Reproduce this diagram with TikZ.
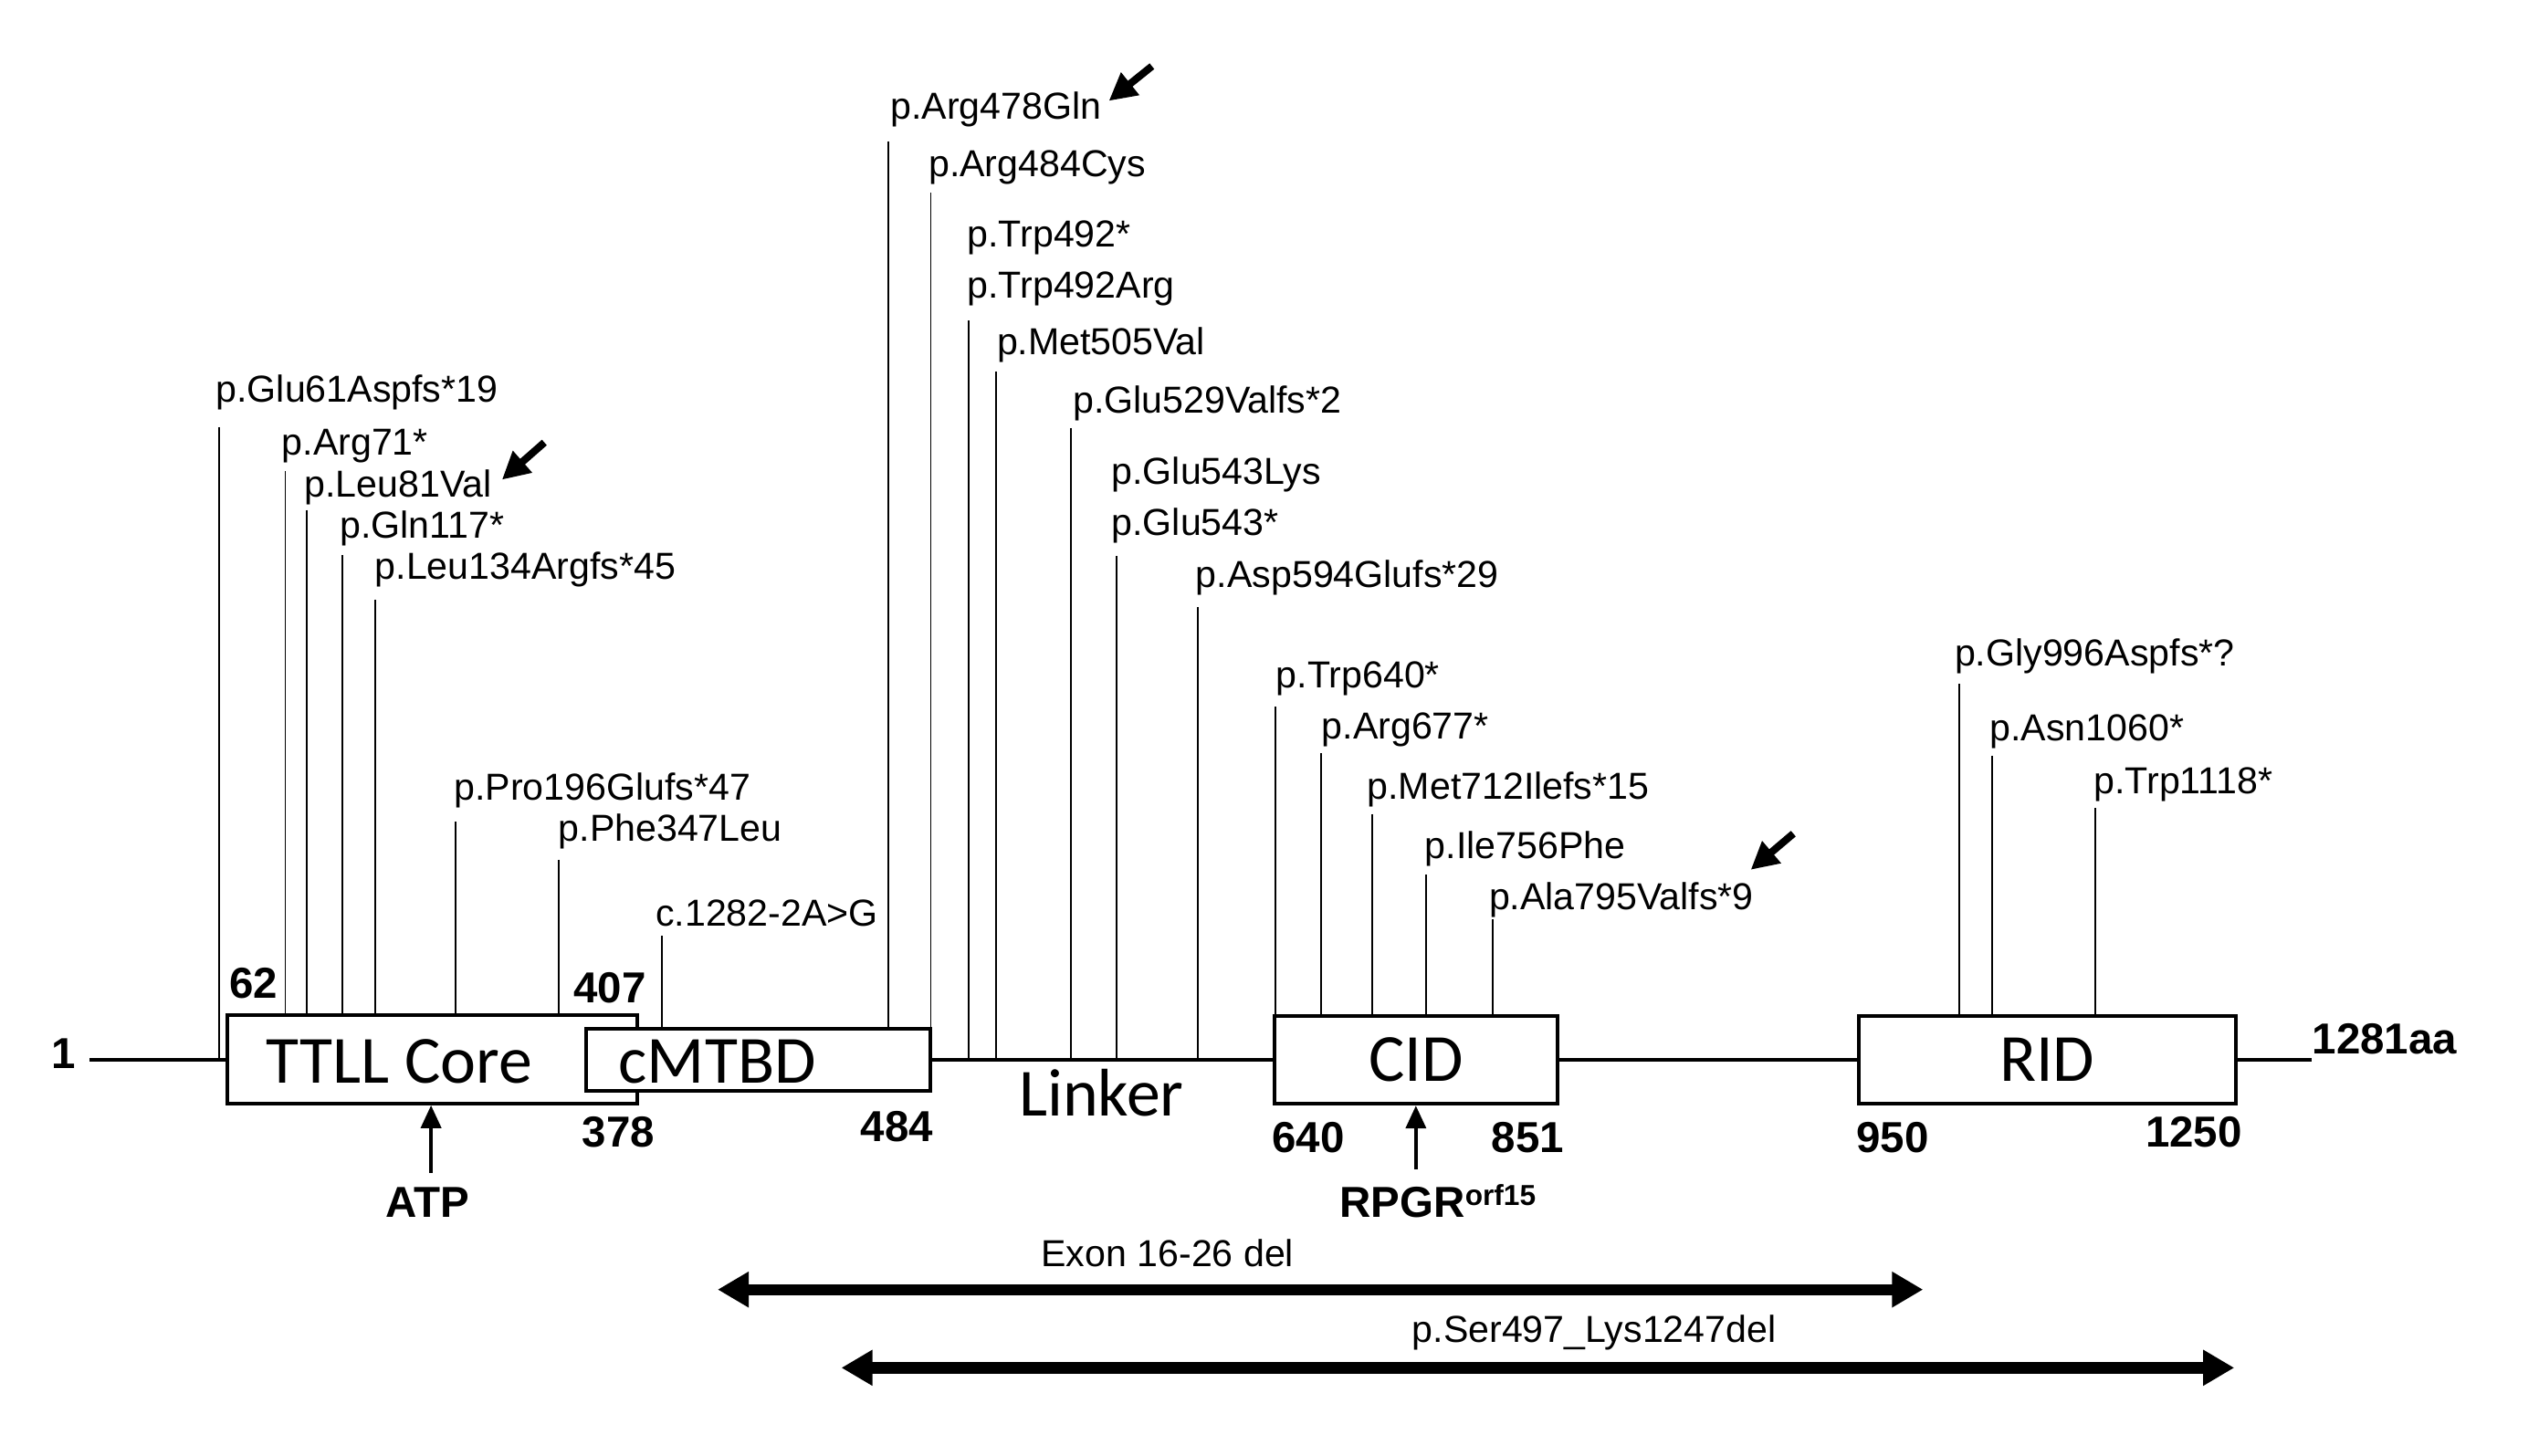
\documentclass[tikz,border=0pt]{standalone}
\usepackage{fontspec}
\setmainfont{Liberation Sans}
\newfontfamily\calibri{Carlito}
\usetikzlibrary{arrows.meta,fit}

\begin{document}
\begin{tikzpicture}[x=0.017736cm, y=-0.017736cm,
    mut/.style={font=\fontsize{11.7}{13}\selectfont, inner sep=0, anchor=base west},
    mutline/.style={line width=0.55pt},
    num/.style={font=\fontsize{13.5}{15}\selectfont\bfseries, inner sep=0, anchor=base west},
    dom/.style={draw, line width=1.1pt, fill=white, inner sep=0},
    domtxt/.style={font=\calibri\fontsize{21}{24}\selectfont, inner sep=0},
    pointer/.style={line width=1.1pt, -{Triangle[length=0.25cm,width=0.22cm]}},
    hint/.style={line width=2.3pt, -{Triangle[length=0.3cm,width=0.3cm]}},
    delarrow/.style={line width=3.5pt, {Triangle[length=0.34cm,width=0.37cm]}-{Triangle[length=0.34cm,width=0.37cm]}}]
    \useasboundingbox (0,0) rectangle (1568,899);

    % Eje de la proteina
    \node[num] (n1) at (31.7,659.7) {1};
    \node[num] (naa) at (1427.6,651) {1281aa};
    \coordinate (bbL) at (55.4,654.6);
    \coordinate (bbR) at (1427.6,654.6);
    \draw[line width=0.9pt] (bbL) -- (bbR);

    % Dominios
    \node[dom, fit={(140.4,626.8) (393.6,681.6)}] (tc) {};
    \node[dom, fit={(361.9,635.2) (574.3,673.8)}] (mt) {};
    \node[dom, fit={(786.9,627.3) (961.9,681.8)}] (cid) {};
    \node[dom, fit={(1148.1,627.3) (1380.7,681.8)}] (rid) {};
    \node[domtxt, anchor=base west] (tctxt) at (164,669) {TTLL Core};
    \node[domtxt, anchor=base west] (mttxt) at (381.7,669) {cMTBD};
    \node[domtxt, anchor=base west] (lnk) at (629,689) {Linker};
    \node[domtxt, anchor=base] (cidtxt) at (874.4,667.7) {CID};
    \node[domtxt, anchor=base] (ridtxt) at (1264.2,667.7) {RID};

    % Limites
    \node[num] (n62) at (141.2,616.5) {62};
    \node[num] (n407) at (354,619.3) {407};
    \node[num] (n378) at (359.2,708.6) {378};
    \node[num] (n484) at (531.2,704.8) {484};
    \node[num] (n640) at (785.3,712) {640};
    \node[num] (n851) at (920.7,712) {851};
    \node[num] (n950) at (1146.1,712) {950};
    \node[num] (n1250) at (1324.7,708.7) {1250};

    % Sitios de union
    \node[num, anchor=base] (atp) at (264.2,751.8) {ATP};
    \coordinate (atpt) at (266.2,724.5);
    \draw[pointer] (atpt) -- (atpt |- tc.south);
    \node[num] (rpgr) at (827.1,751.8) {RPGR\raisebox{3.6pt}{\fontsize{9}{10}\selectfont orf15}};
    \coordinate (rpgt) at (874.4,722);
    \draw[pointer] (rpgt) -- (rpgt |- cid.south);

    % Mutaciones
    \foreach \lx/\ly/\px/\py/\bot/\txt [count=\i] in {
        133/248.6/135.5/263.8/bbL/{p.Glu61Aspfs*19},
        173.7/281/176.2/291/tc.north/{p.Arg71*},
        187.7/306.8/189.5/315/tc.north/{p.Leu81Val},
        209.6/332.4/211.4/343/tc.north/{p.Gln117*},
        231.2/358/231.9/370.3/tc.north/{p.Leu134Argfs*45},
        280/494/281.6/507.5/tc.north/{p.Pro196Glufs*47},
        344.5/519.7/345/530.9/tc.north/{p.Phe347Leu},
        404.5/572/408.6/578/mt.north/{c.1282-2A>G},
        549.5/73.4/548.5/87.2/mt.north/{p.Arg478Gln},
        573.1/109/574.8/118.9/mt.north/{p.Arg484Cys},
        597/184.2/598/198/bbL/{p.Trp492Arg},
        615.3/219/614.9/229.7/bbL/{p.Met505Val},
        662.2/255.4/661.2/264.4/bbL/{p.Glu529Valfs*2},
        686.1/330.6/689.7/343.3/bbL/{p.Glu543*},
        738.2/363/739.5/374.9/bbL/{p.Asp594Glufs*29},
        787.7/424.7/787.4/436.6/cid.north/{p.Trp640*},
        815.9/456.4/815.6/465.2/cid.north/{p.Arg677*},
        844/493.6/847.3/502.7/cid.north/{p.Met712Ilefs*15},
        879.6/530.4/880.6/540.3/cid.north/{p.Ile756Phe},
        919.2/562/921.7/568/cid.north/{p.Ala795Valfs*9},
        1206.8/411.3/1209.9/422.2/rid.north/{p.Gly996Aspfs*?},
        1228.4/457.4/1230.4/466.6/rid.north/{p.Asn1060*},
        1292.7/490.2/1293.8/499.1/rid.north/{p.Trp1118*}}{
        \node[mut] (m\i) at (\lx,\ly) {\txt};
        \coordinate (p\i) at (\px,\py);
        \draw[mutline] (p\i) -- (p\i |- \bot);
    }
    \node[mut] (m11b) at (597,152.5) {p.Trp492*};
    \node[mut] (m14b) at (686.1,299) {p.Glu543Lys};

    % Flechas de aviso
    \coordinate (h1) at (336.2,273.3);
    \draw[hint] (h1) -- (310,296.3);
    \coordinate (h2) at (711.4,40.9);
    \draw[hint] (h2) -- (684.8,62.3);
    \coordinate (h3) at (1107.5,514.9);
    \draw[hint] (h3) -- (1081.2,537.2);

    % Deleciones
    \coordinate (exL) at (443.2,796.5);
    \coordinate (exR) at (1187.6,796.5);
    \draw[delarrow] (exL) -- (exR);
    \node[mut] (exon) at (642.6,782.2) {Exon 16-26 del};
    \coordinate (seL) at (519.6,844.8);
    \coordinate (seR) at (1379.8,844.8);
    \draw[delarrow] (seL) -- (seR);
    \node[mut] (ser) at (871.7,829) {p.Ser497\_Lys1247del};
\end{tikzpicture}
\end{document}
